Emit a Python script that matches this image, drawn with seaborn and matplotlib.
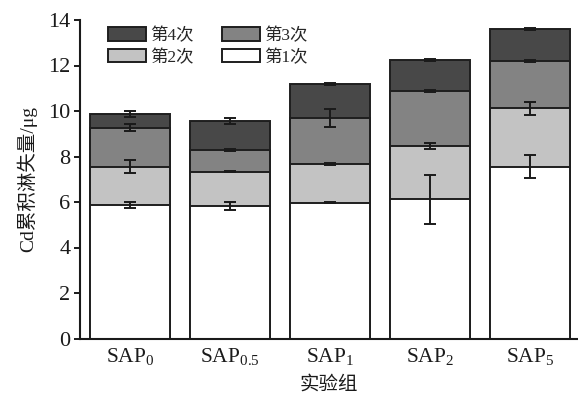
import matplotlib
matplotlib.use("Agg")
import matplotlib.pyplot as plt
import numpy as np
import pandas as pd
import seaborn as sns

# Cd leached in each of the four leaching events (μg), per SAP treatment
groups = ["SAP$_\\mathregular{0}$", "SAP$_\\mathregular{0.5}$", "SAP$_\\mathregular{1}$",
          "SAP$_\\mathregular{2}$", "SAP$_\\mathregular{5}$"]
leach1 = [5.87, 5.82, 5.97, 6.12, 7.55]
leach2 = [1.68, 1.51, 1.70, 2.34, 2.57]
leach3 = [1.72, 0.96, 2.01, 2.41, 2.08]
leach4 = [0.60, 1.28, 1.51, 1.37, 1.39]

# standard deviations of the cumulative amounts after each event
err1 = [0.13, 0.18, 0.03, 1.08, 0.50]
err2 = [0.28, 0.02, 0.03, 0.15, 0.29]
err3 = [0.15, 0.04, 0.40, 0.05, 0.05]
err4 = [0.15, 0.13, 0.03, 0.05, 0.05]

series_names = ["第1次", "第2次", "第3次", "第4次"]
series_colors = ["#ffffff", "#c3c3c3", "#838383", "#484848"]

sns.set_theme(style="ticks")
plt.rcParams["font.family"] = ["Liberation Serif", "Noto Sans CJK SC"]
plt.rcParams["mathtext.fontset"] = "custom"
plt.rcParams["mathtext.rm"] = "Liberation Serif"

increments = np.array([leach1, leach2, leach3, leach4])
cumulative = np.cumsum(increments, axis=0)
errors = np.array([err1, err2, err3, err4])

df = pd.DataFrame({"group": groups})
for name, col in zip(series_names, cumulative):
    df[name] = col

fig = plt.figure(figsize=(5.78, 3.98), dpi=100)
ax = fig.add_axes([80 / 578, 1 - 338.5 / 398, 498 / 578, 318.5 / 398])

edge = "#1e1e1e"
handles = {}
# draw tallest (cumulative) layer first so lower layers sit on top of it
for name, color in reversed(list(zip(series_names, series_colors))):
    sns.barplot(data=df, x="group", y=name, color=color, edgecolor=edge,
                linewidth=1.4, width=0.8, saturation=1, ax=ax, label=name)
    handles[name] = ax.containers[-1].patches[0]

xpos = np.arange(len(groups))
for cum, err in zip(cumulative, errors):
    ax.errorbar(xpos, cum, yerr=err, fmt="none", ecolor="#1a1a1a",
                elinewidth=1.4, capsize=4, capthick=1.4, zorder=5)

ax.set_ylim(0, 14)
ax.set_xlim(-0.5, 4.48)
ax.set_yticks(np.arange(0, 15, 2))
ax.tick_params(axis="y", direction="out", length=4, width=1.4, labelsize=16,
               colors="#1a1a1a", pad=3)
ax.tick_params(axis="x", length=0, labelsize=15.5, colors="#1a1a1a", pad=6)
for s in ["top", "right"]:
    ax.spines[s].set_visible(False)
for s in ["left", "bottom"]:
    ax.spines[s].set_linewidth(1.5)
    ax.spines[s].set_color("#1a1a1a")

ax.set_ylabel("Cd累积淋失量/μg", fontsize=14, color="#1a1a1a", labelpad=8)
ax.set_xlabel("实验组", fontsize=14, color="#1a1a1a", labelpad=5)

# two columns, filled column-wise: row 1 = 第4次, 第3次; row 2 = 第2次, 第1次
order = ["第4次", "第2次", "第3次", "第1次"]
ax.legend([handles[n] for n in order], order, ncol=2, frameon=False,
          loc="upper left", bbox_to_anchor=(0.035, 1.01), fontsize=12.5,
          handlelength=2.2, handleheight=0.8, handletextpad=0.25,
          columnspacing=1.6, labelspacing=0.3, borderaxespad=0.2)

fig.savefig("out.png", dpi=100)
